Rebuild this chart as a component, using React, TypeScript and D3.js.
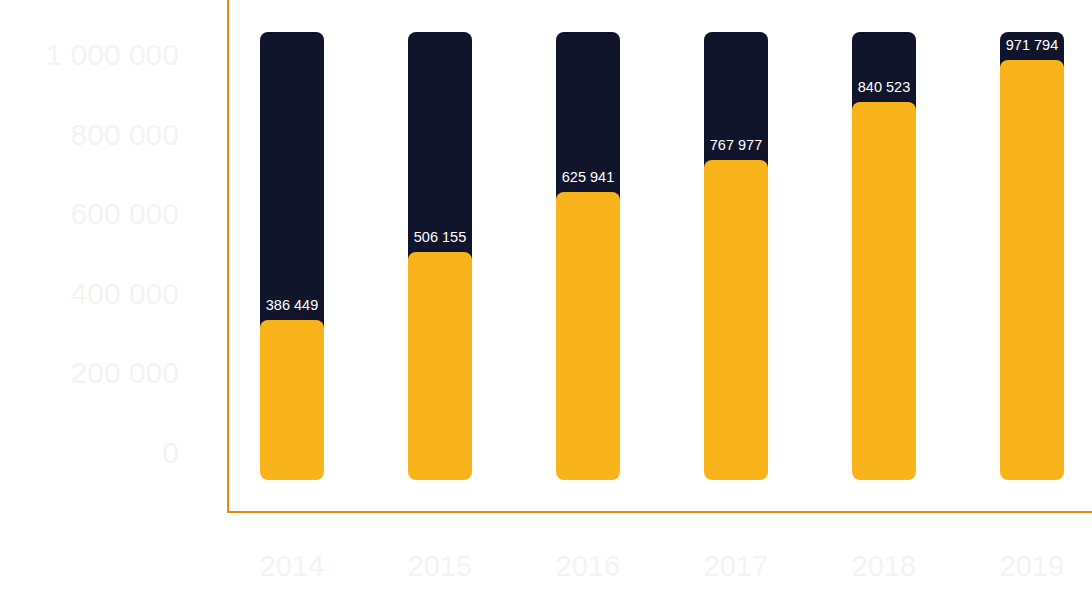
import React from "react";
import * as d3 from "d3";

const years = ["2014", "2015", "2016", "2017", "2018", "2019"];
const labelValues = [386449, 506155, 625941, 767977, 840523, 971794];
const fillLevels = [400000, 570000, 720000, 800000, 945000, 1050000];
const trackMax = 1120000;
const yTicks = [0, 200000, 400000, 600000, 800000, 1000000];

const W = 1092;
const H = 592;
const fmt = (v: number) => d3.format(",")(v).replace(/,/g, " ");

export default function App() {
  const x = d3.scalePoint<string>().domain(years).range([218, 1106]).padding(0.5);
  const y = d3.scaleLinear().domain([0, trackMax]).range([480, 32]);
  const yTick = d3.scaleLinear().domain([0, 1000000]).range([463, 65]);
  const bw = 64;
  const font = "'Liberation Sans', Arial, sans-serif";
  return (
    <svg width={W} height={H} style={{ position: "absolute", left: 0, top: 0, background: "#fff" }}>
      {yTicks.map((t) => (
        <text key={t} x={179} y={yTick(t)} textAnchor="end" fontFamily={font} fontSize={30} fill="#f3f3f3">
          {fmt(t)}
        </text>
      ))}
      {years.map((yr, i) => {
        const cx = x(yr)!;
        const top = y(fillLevels[i]);
        return (
          <g key={yr}>
            <rect x={cx - bw / 2} y={y(trackMax)} width={bw} height={top - y(trackMax) + 20} rx={8} fill="#11152b" />
            <rect x={cx - bw / 2} y={top} width={bw} height={y(0) - top} rx={8} fill="#f9b31b" />
            <text x={cx} y={top - 10} textAnchor="middle" fontFamily={font} fontSize={14.5} fill="#ffffff">
              {fmt(labelValues[i])}
            </text>
            <text x={cx} y={576} textAnchor="middle" fontFamily={font} fontSize={29} fill="#f3f3f3">
              {yr}
            </text>
          </g>
        );
      })}
      <line x1={228} x2={228} y1={0} y2={513} stroke="#e8870e" strokeWidth={2} />
      <line x1={227} x2={W} y1={512} y2={512} stroke="#e8870e" strokeWidth={2} />
    </svg>
  );
}
